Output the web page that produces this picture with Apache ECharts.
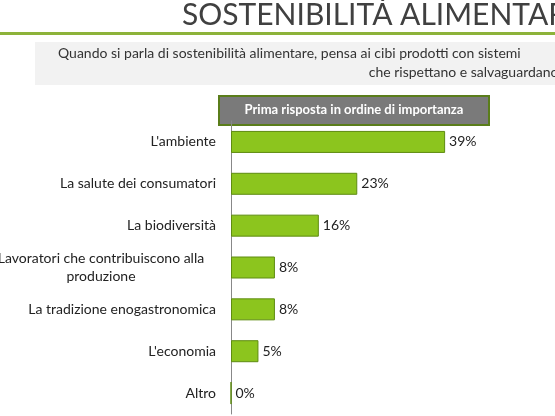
<!DOCTYPE html><html><head><meta charset="utf-8">
<script src="https://cdn.jsdelivr.net/npm/echarts@6/dist/echarts.min.js"></script>
<style>html,body{margin:0;padding:0;background:#fff}#c{width:555px;height:416px}</style></head><body><div id="c"></div>
<script>
const categories=["L'ambiente","La salute dei consumatori","La biodiversità","Lavoratori che contribuiscono alla\nproduzione","La tradizione enogastronomica","L'economia","Altro"];
const values=[39,23,16,8,8,5,0];
const title="SOSTENIBILITÀ ALIMENTARE";
const subtitle1="Quando si parla di sostenibilità alimentare, pensa ai cibi prodotti con sistemi";
const subtitle2="che rispettano e salvaguardano ...";
const legendText="Prima risposta in ordine di importanza";
const F="Lato, 'Open Sans', sans-serif";
const chart=echarts.init(document.getElementById('c'));
chart.setOption({
 animation:false,
 textStyle:{fontFamily:F},
 grid:{left:231,top:121,width:274.5,height:293,containLabel:false,outerBoundsMode:'none'},
 xAxis:{type:'value',min:0,max:50,show:false},
 yAxis:{type:'category',inverse:true,data:categories,
  axisLine:{show:true,lineStyle:{color:'#888'}},axisTick:{show:false},
  axisLabel:{color:'#222',fontSize:14,fontFamily:F,margin:15,
   formatter:v=>v.indexOf('\n')>=0?'{c|'+v+'}':v,
   rich:{c:{width:230,align:'center',fontSize:14,color:'#222',lineHeight:18,fontFamily:F}}}},
 series:[{type:'bar',data:values,barWidth:22,
  itemStyle:{color:'#8cc51e',borderColor:'#5e8c10',borderWidth:1},
  label:{show:true,position:'right',formatter:'{c}%',color:'#222',fontSize:14,fontFamily:F,distance:4}}],
 graphic:[
  {type:'text',x:182,y:0,style:{text:title,font:'30px '+F,fill:'#404040'}},
  {type:'rect',shape:{x:0,y:32,width:555,height:3},style:{fill:'#8db33a'}},
  {type:'rect',shape:{x:35,y:42,width:520,height:43},style:{fill:'#f2f2f2'}},
  {type:'text',x:58,y:46,style:{text:subtitle1,font:'14px '+F,fill:'#333'}},
  {type:'text',x:572,y:65,style:{text:subtitle2,font:'14px '+F,fill:'#333',align:'right'}},
  {type:'rect',shape:{x:219,y:96,width:270,height:29},style:{fill:'#7a7a7a',stroke:'#5a7d1a',lineWidth:2}},
  {type:'text',x:354,y:110,style:{text:legendText,font:'bold 13px '+F,fill:'#fff',align:'center',verticalAlign:'middle'}}
 ]
});
</script></body></html>
